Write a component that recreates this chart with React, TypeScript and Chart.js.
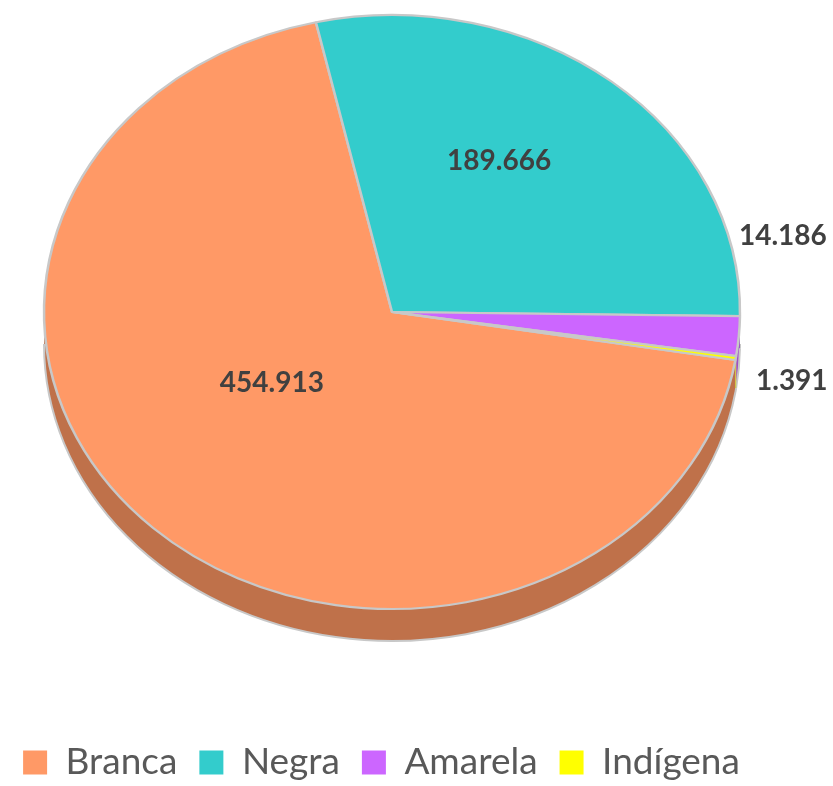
import React, { useEffect, useRef } from "react";
import { Chart, registerables } from "chart.js";

Chart.register(...registerables);

// ---- Data ----
const categories = ["Branca", "Negra", "Amarela", "Indígena"];
const values = [454913, 189666, 14186, 1391];
const colors = ["#FF9966", "#33CCCC", "#CC66FF", "#FFFF00"];
const sideColors = ["#BF714A", "#279E9E", "#9E4FC6", "#C6C600"];

// ---- Geometry / style constants ----
const PIE_CX = 392;
const PIE_CY = 312;
const RADIUS = 348;
const SQUASH = 297 / 348;
const DEPTH = 32;
const ROTATION = 99.3;
const BORDER = "#C8C8C8";

// label placement: radial fraction, plus nudges
const labelFrac = [0.57, 0.57, 1, 1];
const labelNudgeX = [16, -18, 44, 56];
const labelNudgeY = [-52, -20, -100, 23];

const fmt = (v: number) => String(v).replace(/\B(?=(\d{3})+(?!\d))/g, ".");

const pie3d = {
  id: "pie3d",
  beforeDatasetsDraw(chart: any) {
    const meta = chart.getDatasetMeta(0);
    const arcs = meta.data;
    if (!arcs.length) return;
    const ctx = chart.ctx as CanvasRenderingContext2D;
    const R = arcs[0].outerRadius;
    const ry = R * SQUASH;
    const TWO = Math.PI * 2;
    ctx.save();
    // 3D side (visible lower half: canvas angles 0..PI)
    arcs.forEach((arc: any, i: number) => {
      let s = arc.startAngle;
      let e = arc.endAngle;
      const off = Math.floor(s / TWO) * TWO;
      s -= off;
      e -= off;
      for (const base of [0, TWO]) {
        const a = Math.max(s, base);
        const b = Math.min(e, base + Math.PI);
        if (b > a) {
          ctx.beginPath();
          ctx.ellipse(PIE_CX, PIE_CY, R, ry, 0, a, b, false);
          ctx.ellipse(PIE_CX, PIE_CY + DEPTH, R, ry, 0, b, a, true);
          ctx.closePath();
          ctx.fillStyle = sideColors[i];
          ctx.fill();
          ctx.beginPath();
          ctx.ellipse(PIE_CX, PIE_CY + DEPTH, R, ry, 0, a, b, false);
          ctx.strokeStyle = BORDER;
          ctx.lineWidth = 2;
          ctx.stroke();
        }
      }
    });
    // squash the top face into an ellipse
    const a0 = arcs[0];
    ctx.translate(PIE_CX, PIE_CY);
    ctx.scale(1, SQUASH);
    ctx.translate(-a0.x, -a0.y);
  },
  afterDatasetsDraw(chart: any) {
    const ctx = chart.ctx as CanvasRenderingContext2D;
    ctx.restore();
    const meta = chart.getDatasetMeta(0);
    const arcs = meta.data;
    const ds = chart.data.datasets[0];
    ctx.save();
    ctx.font = "bold 28px Lato";
    ctx.fillStyle = "#404040";
    ctx.textAlign = "center";
    ctx.textBaseline = "middle";
    arcs.forEach((arc: any, i: number) => {
      const m = (arc.startAngle + arc.endAngle) / 2;
      const R = arc.outerRadius * labelFrac[i];
      const x = PIE_CX + R * Math.cos(m) + labelNudgeX[i];
      const y = PIE_CY + R * SQUASH * Math.sin(m) + labelNudgeY[i];
      ctx.fillText(fmt(ds.data[i]), x, y);
    });
    ctx.restore();
  },
};

export default function App() {
  const ref = useRef<HTMLCanvasElement | null>(null);
  useEffect(() => {
    if (!ref.current) return;
    const chart = new Chart(ref.current, {
      type: "pie",
      data: {
        labels: categories,
        datasets: [
          {
            data: values,
            backgroundColor: colors,
            borderColor: BORDER,
            borderWidth: 2.5,
            clip: false as any,
          },
        ],
      },
      options: {
        responsive: false,
        animation: false,
        devicePixelRatio: 1,
        events: [],
        rotation: ROTATION,
        radius: RADIUS,
        layout: { padding: { left: 0, right: 70, top: 0, bottom: -5 } },
        plugins: {
          tooltip: { enabled: false },
          legend: {
            position: "bottom",
            labels: {
              boxWidth: 24,
              boxHeight: 24,
              padding: 22,
              color: "#595959",
              font: { family: "Lato", size: 37 },
              generateLabels: (c: any) =>
                c.data.labels.map((l: string, i: number) => ({
                  text: l,
                  fillStyle: colors[i],
                  strokeStyle: colors[i],
                  lineWidth: 0,
                  hidden: false,
                  index: i,
                  fontColor: "#595959",
                })),
            },
          },
        },
      } as any,
      plugins: [pie3d],
    });
    return () => chart.destroy();
  }, []);
  return (
    <div style={{ position: "absolute", left: 0, top: 0, width: 833, height: 786, background: "#fff" }}>
      <canvas ref={ref} width={833} height={786} />
    </div>
  );
}
